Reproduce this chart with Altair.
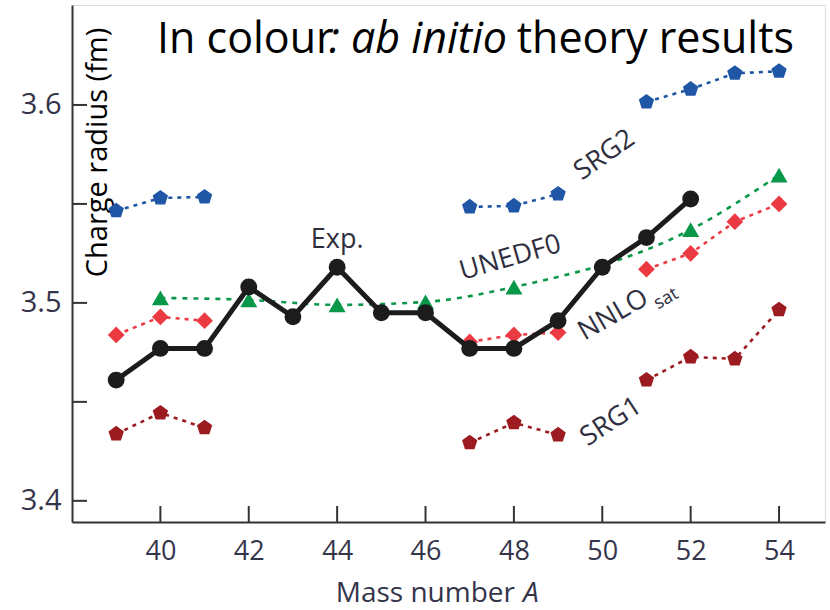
import altair as alt
import pandas as pd

# ---------------- data ----------------
A_exp = [39, 40, 41, 42, 43, 44, 45, 46, 47, 48, 49, 50, 51, 52]
r_exp = [3.461, 3.477, 3.477, 3.508, 3.493, 3.518, 3.495, 3.495, 3.477, 3.477, 3.491, 3.518, 3.533, 3.5525]

A_unedf = [40, 42, 44, 46, 48, 52, 54]
r_unedf = [3.5025, 3.5015, 3.499, 3.5005, 3.508, 3.537, 3.5646]

A_nnlo = [39, 40, 41, 47, 48, 49, 51, 52, 53, 54]
r_nnlo = [3.4838, 3.4929, 3.491, 3.4803, 3.4838, 3.485, 3.517, 3.525, 3.541, 3.550]

A_srg2 = [39, 40, 41, 47, 48, 49, 51, 52, 53, 54]
r_srg2 = [3.5465, 3.553, 3.5535, 3.5485, 3.549, 3.555, 3.6015, 3.608, 3.616, 3.617]

A_srg1 = [39, 40, 41, 47, 48, 49, 51, 52, 53, 54]
r_srg1 = [3.4338, 3.4444, 3.4369, 3.4293, 3.4394, 3.4333, 3.461, 3.4727, 3.4717, 3.4965]

x_ticks = [40, 42, 44, 46, 48, 50, 52, 54]
y_ticks = [3.4, 3.45, 3.5, 3.55, 3.6]
y_labels = [3.4, 3.5, 3.6]

W, H = 753, 517
FONT = "Open Sans"
LBL = "#34344a"

xs = alt.Scale(domain=[38, 55.04], nice=False, zero=False)
ys = alt.Scale(domain=[3.3893, 3.6505], nice=False, zero=False)

PENT = "M0,-1L0.951,-0.309L0.588,0.809L-0.588,0.809L-0.951,-0.309Z"


def seg_of(a):
    if a <= 41:
        return "s1"
    if a <= 49:
        return "s2"
    return "s3"


def frame(A, r):
    return pd.DataFrame({"A": A, "r": r, "seg": [seg_of(a) for a in A]})


X = alt.X("A:Q", scale=xs,
          axis=alt.Axis(values=x_ticks, title=None, ticks=False, tickSize=0, grid=False,
                        labelFont=FONT, labelFontSize=27, labelColor=LBL, labelPadding=16,
                        domainColor="#333333", domainWidth=2))
Y = alt.Y("r:Q", scale=ys,
          axis=alt.Axis(values=y_labels, format=".1f", title="Charge radius (fm)", ticks=False,
                        tickSize=0, grid=False, labelFont=FONT, labelFontSize=29, labelColor=LBL,
                        labelPadding=11, domainColor="#333333", domainWidth=2,
                        titleFont=FONT, titleFontSize=29, titleFontWeight="normal",
                        titleColor="#000000", titleAngle=270, titleX=34, titleY=147,
                        titleAlign="center", titleBaseline="alphabetic"))

layers = []


def theory(A, r, color, shape, size, dash, interp="linear", by_seg=True):
    df = frame(A, r)
    enc = dict(x=alt.X("A:Q", scale=xs), y=alt.Y("r:Q", scale=ys))
    if by_seg:
        enc["detail"] = "seg:N"
    line = alt.Chart(df).mark_line(color=color, strokeWidth=2.6, strokeDash=dash,
                                   interpolate=interp).encode(**enc)
    pts = alt.Chart(df).mark_point(shape=shape, size=size, filled=True, color=color,
                                   opacity=1, strokeWidth=0).encode(
        x=alt.X("A:Q", scale=xs), y=alt.Y("r:Q", scale=ys))
    return [line, pts]


base = alt.Chart(frame(A_exp, r_exp)).mark_point(opacity=0).encode(x=X, y=Y)
layers.append(base)

layers += theory(A_srg2, r_srg2, "#1f56a6", PENT, 260, [4, 5])
layers += theory(A_srg1, r_srg1, "#9c1b20", PENT, 260, [4, 5])
layers += theory(A_nnlo, r_nnlo, "#ec3a43", "diamond", 280, [4, 5])
layers += theory(A_unedf, r_unedf, "#09974a", "triangle-up", 290, [5, 6], interp="monotone", by_seg=False)

exp_df = pd.DataFrame({"A": A_exp, "r": r_exp})
layers.append(alt.Chart(exp_df).mark_line(color="#1c1c1c", strokeWidth=5).encode(
    x=alt.X("A:Q", scale=xs), y=alt.Y("r:Q", scale=ys)))
layers.append(alt.Chart(exp_df).mark_circle(color="#1c1c1c", size=285, opacity=1).encode(
    x=alt.X("A:Q", scale=xs), y=alt.Y("r:Q", scale=ys)))

# inward ticks
layers.append(alt.Chart(pd.DataFrame({"t": y_ticks})).mark_rule(color="#333333", strokeWidth=2).encode(
    y=alt.Y("t:Q", scale=ys), x=alt.value(0), x2=alt.value(15)))
layers.append(alt.Chart(pd.DataFrame({"t": x_ticks})).mark_rule(color="#333333", strokeWidth=2).encode(
    x=alt.X("t:Q", scale=xs), y=alt.value(H), y2=alt.value(H - 16)))


# annotations in data coordinates
def label(text, a, r, angle=0, size=27, color="#2e2e3e"):
    return alt.Chart(pd.DataFrame({"t": [text]})).mark_text(
        font=FONT, fontSize=size, color=color, angle=angle, align="center", baseline="middle"
    ).encode(x=alt.X("a:Q", scale=xs), y=alt.Y("b:Q", scale=ys), text="t:N"
             ).transform_calculate(a=str(a), b=str(r))


layers.append(label("Exp.", 44.0, 3.5318))
layers.append(label("SRG2", 50.05, 3.5747, angle=325))
layers.append(label("UNEDF0", 47.92, 3.5227, angle=344))
layers.append(label("NNLO", 50.25, 3.4939, angle=330))
layers.append(label("sat", 51.45, 3.5020, angle=330, size=18))
layers.append(label("SRG1", 50.2, 3.4399, angle=327))


# title pieces and x-axis title (pixel positions in plot coordinates)
def ptext(text, x, y, align, size, style="normal", color="#000000"):
    return alt.Chart(pd.DataFrame({"t": [text]})).mark_text(
        font=FONT, fontSize=size, fontStyle=style, color=color, align=align, baseline="alphabetic"
    ).encode(x=alt.value(x), y=alt.value(y), text="t:N")


layers.append(ptext("In colour", 85, 48, "left", 43))
layers.append(ptext(": ab initio", 257, 48, "left", 43, "italic"))
layers.append(ptext("theory results", 722, 48, "right", 43))
layers.append(ptext("Mass number", 443, 597, "right", 28, color=LBL))
layers.append(ptext("A", 451, 597, "left", 28, "italic", color=LBL))

chart = alt.layer(*layers).properties(
    width=W, height=H,
    padding={"left": 72, "top": 5, "right": 5, "bottom": 88},
    autosize=alt.AutoSizeParams(type="none"),
).configure_view(stroke="#707070", strokeWidth=1.5).configure(background="white")

chart.save("out.html", embed_options={"renderer": "svg", "actions": False})
